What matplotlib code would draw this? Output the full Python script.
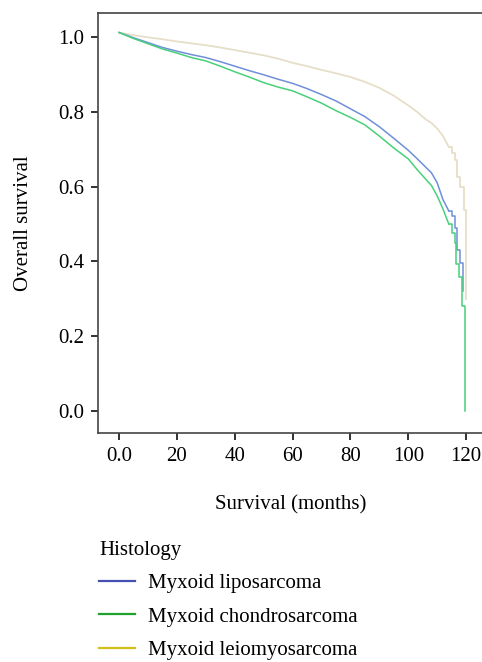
import matplotlib
matplotlib.use("Agg")
import matplotlib.pyplot as plt
from matplotlib.lines import Line2D

plt.rcParams['font.family'] = ['Liberation Serif', 'DejaVu Serif']

# Kaplan-Meier estimates (months, survival)
lipo_t = [0, 5, 10, 15, 20, 25, 30, 35, 40, 45, 50, 55, 60, 65, 70, 75, 80, 85, 90,
          95, 100, 103, 106, 108, 110, 112, 114, 115, 116, 117, 118, 119]
lipo_s = [1.012, 0.998, 0.985, 0.972, 0.962, 0.953, 0.945, 0.934, 0.922, 0.910, 0.899,
          0.887, 0.876, 0.862, 0.846, 0.829, 0.808, 0.787, 0.760, 0.729, 0.697, 0.675,
          0.652, 0.637, 0.610, 0.565, 0.535, 0.520, 0.490, 0.430, 0.395, 0.320]

chondro_t = [0, 5, 10, 15, 20, 25, 30, 35, 40, 45, 50, 55, 60, 65, 70, 75, 80, 85, 90,
             95, 100, 103, 106, 108, 110, 112, 114, 115, 116, 116.5, 117.6, 118.7, 119.7]
chondro_s = [1.012, 0.996, 0.982, 0.968, 0.957, 0.945, 0.936, 0.922, 0.907, 0.893, 0.878,
             0.866, 0.856, 0.840, 0.823, 0.803, 0.785, 0.765, 0.735, 0.703, 0.674, 0.646,
             0.620, 0.603, 0.575, 0.540, 0.500, 0.475, 0.450, 0.393, 0.357, 0.280, 0.0]

leio_t = [0, 5, 10, 15, 20, 25, 30, 35, 40, 45, 50, 55, 60, 65, 70, 75, 80, 85, 90,
          95, 100, 103, 106, 108, 110, 112, 114, 115, 116, 117, 118, 119.3, 119.8]
leio_s = [1.012, 1.005, 0.999, 0.994, 0.988, 0.983, 0.978, 0.972, 0.965, 0.958, 0.951,
          0.942, 0.931, 0.922, 0.912, 0.903, 0.893, 0.880, 0.864, 0.843, 0.817, 0.800,
          0.780, 0.770, 0.755, 0.735, 0.706, 0.690, 0.670, 0.625, 0.600, 0.536, 0.300]

labels = ["Myxoid liposarcoma", "Myxoid chondrosarcoma", "Myxoid leiomyosarcoma"]
legend_colors = ["#4451b3", "#1fa22e", "#d2c01a"]
curve_colors = ["#6f8fdb", "#48d07a", "#e6dfc8"]

fs = 15
tail = 26  # index from which (t >= 114) the KM steps are visible

fig = plt.figure(figsize=(4.82, 6.62), dpi=100)
ax = fig.add_axes([0.2033, 0.3459, 0.801, 0.6344])

# body drawn smooth (steps too fine to see), tail drawn as steps
for t, s, c, w in [(leio_t, leio_s, curve_colors[2], 1.3),
                   (lipo_t, lipo_s, curve_colors[0], 1.1),
                   (chondro_t, chondro_s, curve_colors[1], 1.1)]:
    ax.plot(t[:tail + 1], s[:tail + 1], color=c, lw=w)
    ax.step(t[tail:], s[tail:], where='post', color=c, lw=w)

ax.set_xlim(-7.26, 126.2)
ax.set_ylim(-0.059, 1.064)
ax.set_xticks([0, 20, 40, 60, 80, 100, 120])
ax.set_xticklabels(["0.0", "20", "40", "60", "80", "100", "120"])
ax.set_yticks([0.0, 0.2, 0.4, 0.6, 0.8, 1.0])
ax.set_yticklabels(["0.0", "0.2", "0.4", "0.6", "0.8", "1.0"])
ax.tick_params(labelsize=fs, length=5, width=1.3, pad=5, color="#222222")
ax.spines['right'].set_visible(False)
for sp in ax.spines.values():
    sp.set_color("#444444")
    sp.set_linewidth(1.2)

ax.set_xlabel("Survival (months)", fontsize=fs, labelpad=21)
ax.set_ylabel("Overall survival", fontsize=fs, labelpad=18)

handles = [Line2D([], [], color=c, lw=1.6) for c in legend_colors]
fig.legend(handles, labels, title="Histology", loc="upper left",
           bbox_to_anchor=(99 / 482, 1 - 541 / 662), frameon=False,
           fontsize=fs, title_fontsize=fs, alignment="left",
           handlelength=1.75, handletextpad=0.6, labelspacing=0.66, borderpad=0,
           borderaxespad=0)

fig.savefig("out.png", dpi=100)
